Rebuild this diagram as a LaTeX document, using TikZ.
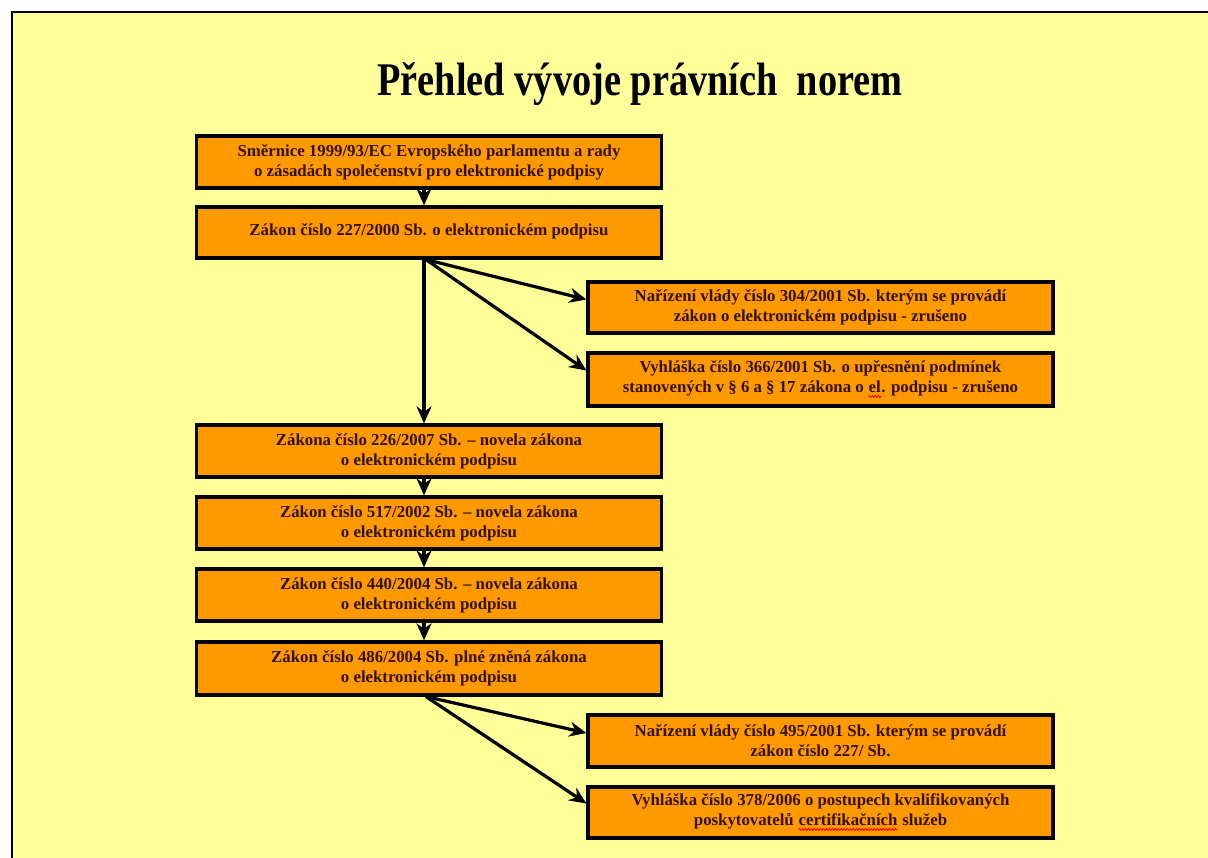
\documentclass[tikz,border=0pt]{standalone}
\usepackage{fontspec}
\setmainfont{Liberation Serif}
\usetikzlibrary{arrows.meta,decorations.pathmorphing}
\definecolor{bgyellow}{HTML}{FFFF99}
\definecolor{boxorange}{HTML}{FF9900}
\definecolor{txtbrown}{HTML}{331000}
\newcommand\redwave[1]{\tikz[baseline=(rw.base), x=1pt, y=1pt]{%
  \node[draw=none, fill=none, inner sep=0pt, minimum width=0pt, minimum height=0pt, text=txtbrown] (rw) {#1};
  \draw[red, line width=0.8pt, decorate, decoration={snake, amplitude=1pt, segment length=3pt}]
    ([yshift=-3.5pt]rw.base west) -- ([yshift=-3.5pt]rw.base east);}}
\tikzset{
  lawbox/.style={draw=black, line width=3.2pt, fill=boxorange, minimum width=465pt,
    inner sep=0pt, align=center, text=txtbrown,
    font=\fontsize{16.8}{20}\selectfont\bfseries},
  flow/.style={line width=3.2pt, -{Stealth[length=17pt,width=15pt]}},
}
\begin{document}
\begin{tikzpicture}[x=1pt, y=-1pt]
\useasboundingbox (0,0) rectangle (1208,858);
\fill[bgyellow] (12,12) rectangle (1208,858);
\draw[line width=2.6pt] (1208,12) -- (12,12) -- (12,858);
\node (title) at (640,84) {\resizebox{525pt}{33pt}{\bfseries Přehled vývoje právních\ \ norem}};
\node[lawbox, minimum height=52pt] (b1) at (429,162) {Směrnice 1999/93/EC Evropského parlamentu a rady\\o zásadách společenství pro elektronické podpisy};
\node[lawbox, minimum height=51pt] (b2) at (429,232.5) {\raisebox{6pt}{Zákon číslo 227/2000 Sb. o elektronickém podpisu}};
\node[lawbox, minimum height=51pt] (b3) at (820.5,307.5) {Nařízení vlády číslo 304/2001 Sb. kterým se provádí\\zákon o elektronickém podpisu - zrušeno};
\node[lawbox, minimum height=53pt] (b4) at (820.5,379.5) {Vyhláška číslo 366/2001 Sb. o upřesnění podmínek\\stanovených v § 6 a § 17 zákona o \redwave{el}. podpisu - zrušeno};
\node[lawbox, minimum height=52pt] (b5) at (429,451) {Zákona číslo 226/2007 Sb. – novela zákona\\o elektronickém podpisu};
\node[lawbox, minimum height=52pt] (b6) at (429,523) {Zákon číslo 517/2002 Sb. – novela zákona\\o elektronickém podpisu};
\node[lawbox, minimum height=52pt] (b7) at (429,595) {Zákon číslo 440/2004 Sb. – novela zákona\\o elektronickém podpisu};
\node[lawbox, minimum height=53pt] (b8) at (429,668.5) {Zákon číslo 486/2004 Sb. plné zněná zákona\\o elektronickém podpisu};
\node[lawbox, minimum height=52pt] (b9) at (820.5,741) {Nařízení vlády číslo 495/2001 Sb. kterým se provádí\\zákon číslo 227/ Sb.};
\node[lawbox, minimum height=51pt] (b10) at (820.5,812.5) {Vyhláška číslo 378/2006 o postupech kvalifikovaných\\poskytovatelů \redwave{certifikačních} služeb};
\draw[flow] ([xshift=-5pt]b1.south) -- ([xshift=-5pt]b2.north);
\draw[flow] ([xshift=-5pt]b2.south) -- ([xshift=-5pt]b5.north);
\draw[flow] ([xshift=-3pt]b2.south) -- ([yshift=8pt]b3.west);
\draw[flow] ([xshift=-3pt]b2.south) -- ([yshift=9pt]b4.west);
\draw[flow] ([xshift=-5pt]b5.south) -- ([xshift=-5pt]b6.north);
\draw[flow] ([xshift=-5pt]b6.south) -- ([xshift=-5pt]b7.north);
\draw[flow] ([xshift=-5pt]b7.south) -- ([xshift=-5pt]b8.north);
\draw[flow] ([xshift=-3pt]b8.south) -- ([yshift=8pt]b9.west);
\draw[flow] ([xshift=-3pt]b8.south) -- ([yshift=9pt]b10.west);
\end{tikzpicture}
\end{document}
